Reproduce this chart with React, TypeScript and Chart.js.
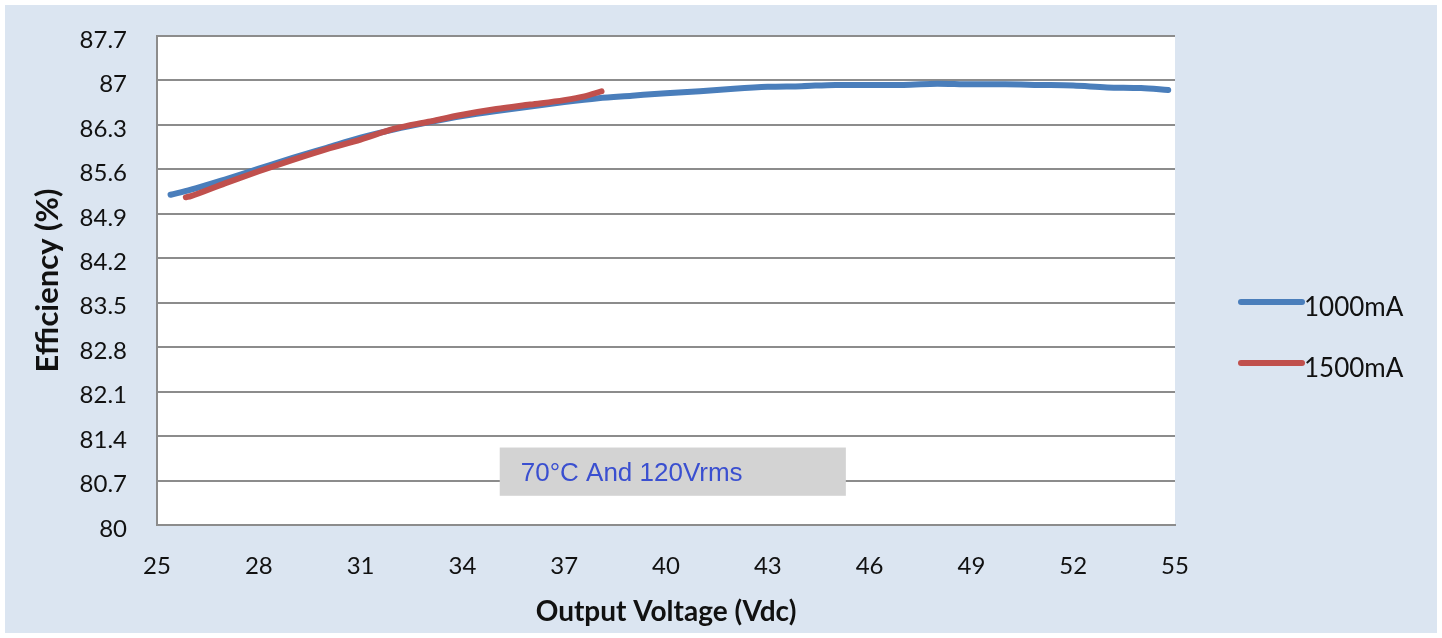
import React, { useEffect, useRef } from "react";
import { Chart, registerables } from "chart.js";

Chart.register(...registerables);

const SERIES_NAMES = ["1000mA", "1500mA"];
const SERIES_COLORS = ["#4a7ebb", "#c0504d"];

const X_1000 = [25.4, 26, 27, 28, 29, 30, 31, 32, 33, 34, 35, 36, 37, 38, 39, 40, 41, 42, 43, 44, 45, 46, 47, 48, 49, 50, 51, 52, 53, 54, 54.8];
const Y_1000 = [85.2, 85.28, 85.44, 85.61, 85.78, 85.94, 86.1, 86.23, 86.34, 86.44, 86.52, 86.59, 86.66, 86.72, 86.76, 86.8, 86.83, 86.87, 86.9, 86.91, 86.93, 86.93, 86.93, 86.95, 86.94, 86.94, 86.93, 86.92, 86.89, 86.88, 86.85];

const X_1500 = [25.85, 26, 27, 28, 29, 30, 31, 32, 33, 34, 35, 36, 37, 37.6, 38.1];
const Y_1500 = [85.16, 85.18, 85.38, 85.57, 85.75, 85.92, 86.07, 86.24, 86.35, 86.46, 86.55, 86.62, 86.69, 86.75, 86.83];

const Y_TICKS = [80, 80.7, 81.4, 82.1, 82.8, 83.5, 84.2, 84.9, 85.6, 86.3, 87, 87.7];
const X_TICKS = [25, 28, 31, 34, 37, 40, 43, 46, 49, 52, 55];

const X_TITLE = "Output Voltage (Vdc)";
const Y_TITLE = "Efficiency (%)";

const NOTE_TEXT = "70°C And 120Vrms";
const NOTE_X = [35.1, 45.3];
const NOTE_Y = [80.46, 81.22];

const FONT = "Lato, 'Open Sans', sans-serif";

export default function App() {
  const ref = useRef<HTMLCanvasElement | null>(null);

  useEffect(() => {
    document.body.style.margin = "0";
    const canvas = ref.current;
    if (!canvas) return;

    const notePlugin = {
      id: "notePlugin",
      afterDatasetsDraw(chart: any) {
        const ctx = chart.ctx;
        const xs = chart.scales.x;
        const ys = chart.scales.y;
        const x0 = xs.getPixelForValue(NOTE_X[0]);
        const x1 = xs.getPixelForValue(NOTE_X[1]);
        const y0 = ys.getPixelForValue(NOTE_Y[1]);
        const y1 = ys.getPixelForValue(NOTE_Y[0]);
        ctx.save();
        ctx.fillStyle = "#d3d3d3";
        ctx.fillRect(x0, y0, x1 - x0, y1 - y0);
        ctx.fillStyle = "#3a4fd0";
        ctx.font = "26px 'Liberation Sans', Arial, sans-serif";
        ctx.textBaseline = "middle";
        ctx.textAlign = "left";
        ctx.fillText(NOTE_TEXT, x0 + 21, (y0 + y1) / 2 + 2);
        ctx.restore();
      },
    };

    const legendPlugin = {
      id: "sideLegend",
      afterDraw(chart: any) {
        const ctx = chart.ctx;
        const area = chart.chartArea;
        ctx.save();
        chart.data.datasets.forEach((ds: any, i: number) => {
          const y = area.top + 266 + i * 61;
          const xStart = area.right + 66;
          ctx.strokeStyle = ds.borderColor;
          ctx.lineWidth = 6;
          ctx.lineCap = "round";
          ctx.beginPath();
          ctx.moveTo(xStart, y);
          ctx.lineTo(xStart + 61, y);
          ctx.stroke();
          ctx.fillStyle = "#111";
          ctx.font = `26px ${FONT}`;
          ctx.textBaseline = "middle";
          ctx.textAlign = "left";
          ctx.fillText(ds.label, xStart + 63, y + 6);
        });
        ctx.restore();
      },
    };

    const chart = new Chart(canvas, {
      type: "scatter",
      data: {
        datasets: [
          {
            label: SERIES_NAMES[0],
            data: X_1000.map((x, i) => ({ x, y: Y_1000[i] })),
            borderColor: SERIES_COLORS[0],
            backgroundColor: SERIES_COLORS[0],
            showLine: true,
            borderWidth: 6,
            pointRadius: 0,
            cubicInterpolationMode: "monotone",
            borderCapStyle: "round",
            order: 1,
          },
          {
            label: SERIES_NAMES[1],
            data: X_1500.map((x, i) => ({ x, y: Y_1500[i] })),
            borderColor: SERIES_COLORS[1],
            backgroundColor: SERIES_COLORS[1],
            showLine: true,
            borderWidth: 6,
            pointRadius: 0,
            cubicInterpolationMode: "monotone",
            borderCapStyle: "round",
            order: 0,
          },
        ],
      },
      options: {
        responsive: false,
        animation: false,
        devicePixelRatio: 1,
        layout: { padding: { top: 31, left: 0, right: 262, bottom: 0 } },
        plugins: {
          legend: { display: false },
          tooltip: { enabled: false },
        },
        scales: {
          x: {
            type: "linear",
            min: 25,
            max: 55,
            afterBuildTicks: (axis: any) => {
              axis.ticks = X_TICKS.map((v) => ({ value: v }));
            },
            afterFit: (axis: any) => {
              axis.height = 108;
              axis.paddingLeft = 0;
              axis.paddingRight = 0;
            },
            grid: { display: false, drawTicks: false },
            border: { display: true, color: "#8c8c8c", width: 2 },
            ticks: {
              padding: 27,
              color: "#111",
              font: { family: FONT, size: 24 },
              maxRotation: 0,
              autoSkip: false,
              callback: (v: any) => String(v),
            },
            title: {
              display: true,
              text: X_TITLE,
              color: "#111",
              font: { family: FONT, size: 28, weight: "bold" },
              padding: { top: 0, bottom: 4 },
            },
          },
          y: {
            type: "linear",
            min: 80,
            max: 87.7,
            afterBuildTicks: (axis: any) => {
              axis.ticks = Y_TICKS.map((v) => ({ value: v }));
            },
            afterFit: (axis: any) => {
              axis.width = 152;
              axis.paddingTop = 0;
              axis.paddingBottom = 0;
            },
            grid: { color: "#8c8c8c", lineWidth: 2, drawTicks: false },
            border: { display: true, color: "#8c8c8c", width: 2 },
            ticks: {
              padding: 30,
              labelOffset: 4,
              color: "#111",
              font: { family: FONT, size: 24 },
              autoSkip: false,
              callback: (v: any) => String(v),
            },
            title: {
              display: true,
              text: Y_TITLE,
              color: "#111",
              font: { family: FONT, size: 31, weight: "bold" },
              padding: { top: 24, bottom: 0 },
            },
          },
        },
      } as any,
      plugins: [
        {
          id: "plotBg",
          beforeDraw(chart: any) {
            const { ctx, chartArea } = chart;
            ctx.save();
            ctx.fillStyle = "#ffffff";
            ctx.fillRect(chartArea.left, chartArea.top, chartArea.right - chartArea.left, chartArea.bottom - chartArea.top);
            ctx.restore();
          },
        },
        notePlugin,
        legendPlugin,
      ],
    });

    return () => chart.destroy();
  }, []);

  return (
    <div style={{ width: 1442, height: 638, background: "#ffffff", padding: 5, boxSizing: "border-box" }}>
      <div style={{ width: 1432, height: 628, background: "#dbe5f1" }}>
        <canvas ref={ref} width={1432} height={628} style={{ display: "block" }} />
      </div>
    </div>
  );
}
